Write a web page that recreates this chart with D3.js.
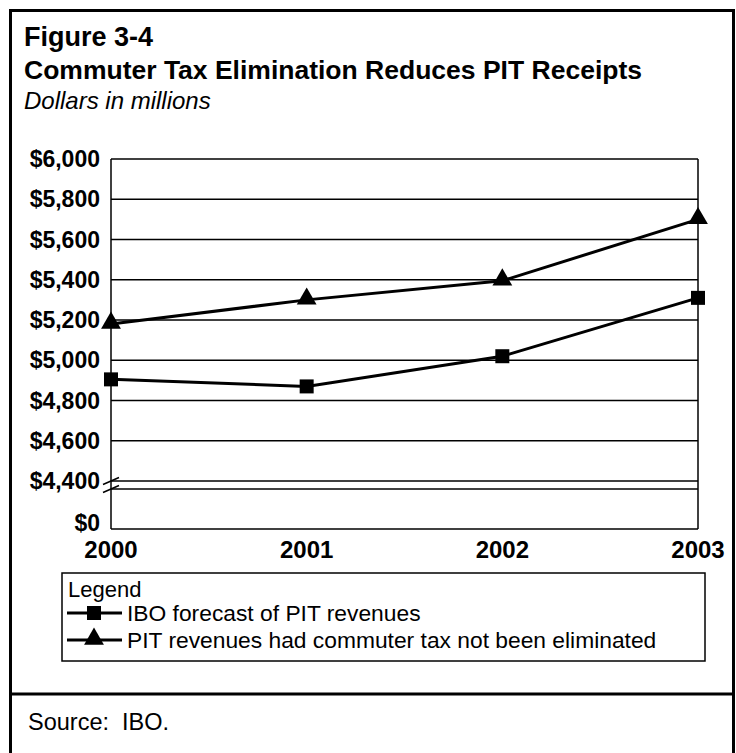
<!DOCTYPE html>
<html>
<head>
<meta charset="utf-8">
<script src="https://cdn.jsdelivr.net/npm/d3@7"></script>
<style>
  html, body { margin: 0; padding: 0; background: #ffffff; }
  svg { display: block; font-family: "Liberation Sans", Arial, sans-serif; }
</style>
</head>
<body>
<div id="chart"></div>
<script>
// data
const years = [2000, 2001, 2002, 2003];
const iboForecast = [4905, 4870, 5020, 5310];
const noElimination = [5180, 5300, 5395, 5700];
const yTicks = [4400, 4600, 4800, 5000, 5200, 5400, 5600, 5800, 6000];
const seriesNames = ["IBO forecast of PIT revenues", "PIT revenues had commuter tax not been eliminated"];

const width = 736,
    height = 753;

const svg = d3.select("#chart")
    .append("svg")
    .attr("width", width)
    .attr("height", height);

// outer frame and divider above the source line
svg.append("rect")
    .attr("x", 10.5)
    .attr("y", 10.5)
    .attr("width", 723)
    .attr("height", 760)
    .attr("fill", "none")
    .attr("stroke", "#000")
    .attr("stroke-width", 3);

svg.append("line")
    .attr("x1", 10).attr("x2", 734)
    .attr("y1", 694).attr("y2", 694)
    .attr("stroke", "#000")
    .attr("stroke-width", 3);

// titles
svg.append("text")
    .attr("x", 24).attr("y", 46)
    .style("font-size", "27px")
    .style("font-weight", "bold")
    .text("Figure 3-4");

svg.append("text")
    .attr("x", 24).attr("y", 79)
    .style("font-size", "26.5px")
    .style("font-weight", "bold")
    .text("Commuter Tax Elimination Reduces PIT Receipts");

svg.append("text")
    .attr("x", 24).attr("y", 109)
    .style("font-size", "24px")
    .style("font-style", "italic")
    .text("Dollars in millions");

// scales: upper panel for the data, a small lower panel down to $0
const x = d3.scalePoint()
    .domain(years)
    .range([111, 698]);

const y = d3.scaleLinear()
    .domain([4400, 6000])
    .range([481, 159]);

const yLow = d3.scaleLinear()
    .domain([0, 4400])
    .range([529, 489]);

const left = x(years[0]),
    right = x(years[years.length - 1]);

// gridlines
svg.append("g")
    .selectAll("line")
    .data(yTicks)
    .join("line")
    .attr("x1", left).attr("x2", right)
    .attr("y1", d => y(d)).attr("y2", d => y(d))
    .attr("stroke", "#000")
    .attr("stroke-width", 1.5);

// top of the lower panel and the x axis line
svg.append("line")
    .attr("x1", left).attr("x2", right)
    .attr("y1", yLow(4400)).attr("y2", yLow(4400))
    .attr("stroke", "#000")
    .attr("stroke-width", 1.5);

svg.append("line")
    .attr("x1", left).attr("x2", right)
    .attr("y1", yLow(0)).attr("y2", yLow(0))
    .attr("stroke", "#000")
    .attr("stroke-width", 1.5);

// left axis and right border
[left, right].forEach(xx => {
    svg.append("line")
        .attr("x1", xx).attr("x2", xx)
        .attr("y1", y(6000)).attr("y2", yLow(0))
        .attr("stroke", "#000")
        .attr("stroke-width", 1.5);
});

// break marks on the left axis
const breakY = [y(4400), yLow(4400)];
breakY.forEach(by => {
    svg.append("line")
        .attr("x1", left - 8).attr("x2", left + 8)
        .attr("y1", by + 3.5).attr("y2", by - 3.5)
        .attr("stroke", "#000")
        .attr("stroke-width", 1.5);
});

// y labels
const fmt = d3.format("$,");
svg.append("g")
    .selectAll("text")
    .data(yTicks)
    .join("text")
    .attr("x", left - 11)
    .attr("y", d => y(d))
    .attr("dy", "0.35em")
    .attr("text-anchor", "end")
    .style("font-size", "23px")
    .style("font-weight", "bold")
    .text(d => fmt(d));

svg.append("text")
    .attr("x", left - 11)
    .attr("y", yLow(0) - 6)
    .attr("dy", "0.35em")
    .attr("text-anchor", "end")
    .style("font-size", "23px")
    .style("font-weight", "bold")
    .text(fmt(0));

// x labels
svg.append("g")
    .selectAll("text")
    .data(years)
    .join("text")
    .attr("x", d => x(d))
    .attr("y", 558)
    .attr("text-anchor", "middle")
    .style("font-size", "24px")
    .style("font-weight", "bold")
    .text(d => d);

// series lines
const line = d3.line()
    .x((d, i) => x(years[i]))
    .y(d => y(d));

[iboForecast, noElimination].forEach(values => {
    svg.append("path")
        .datum(values)
        .attr("d", line)
        .attr("fill", "none")
        .attr("stroke", "#000")
        .attr("stroke-width", 3);
});

// markers
const square = d3.symbol().type(d3.symbolSquare).size(196);
const triangle = d3.symbol().type(d3.symbolTriangle).size(170);

svg.append("g")
    .selectAll("path")
    .data(iboForecast)
    .join("path")
    .attr("d", square)
    .attr("transform", (d, i) => `translate(${x(years[i])},${y(d)})`)
    .attr("fill", "#000");

svg.append("g")
    .selectAll("path")
    .data(noElimination)
    .join("path")
    .attr("d", triangle)
    .attr("transform", (d, i) => `translate(${x(years[i])},${y(d) - 1})`)
    .attr("fill", "#000");

// legend
const legend = svg.append("g");

legend.append("rect")
    .attr("x", 62).attr("y", 573)
    .attr("width", 643).attr("height", 88)
    .attr("fill", "none")
    .attr("stroke", "#000")
    .attr("stroke-width", 1.5);

legend.append("text")
    .attr("x", 68).attr("y", 597)
    .style("font-size", "22px")
    .text("Legend");

const rowY = [613, 640];
const markers = [square, triangle];

seriesNames.forEach((name, i) => {
    legend.append("line")
        .attr("x1", 67).attr("x2", 122)
        .attr("y1", rowY[i]).attr("y2", rowY[i])
        .attr("stroke", "#000")
        .attr("stroke-width", 3);
    legend.append("path")
        .attr("d", markers[i])
        .attr("transform", `translate(94,${rowY[i] - (i ? 1 : 0)})`)
        .attr("fill", "#000");
    legend.append("text")
        .attr("x", 127).attr("y", rowY[i] + 8)
        .style("font-size", "22.8px")
        .text(name);
});

// source
svg.append("text")
    .attr("x", 28).attr("y", 730)
    .style("font-size", "23.5px")
    .style("white-space", "pre")
    .text("Source:  IBO.");
</script>
</body>
</html>
